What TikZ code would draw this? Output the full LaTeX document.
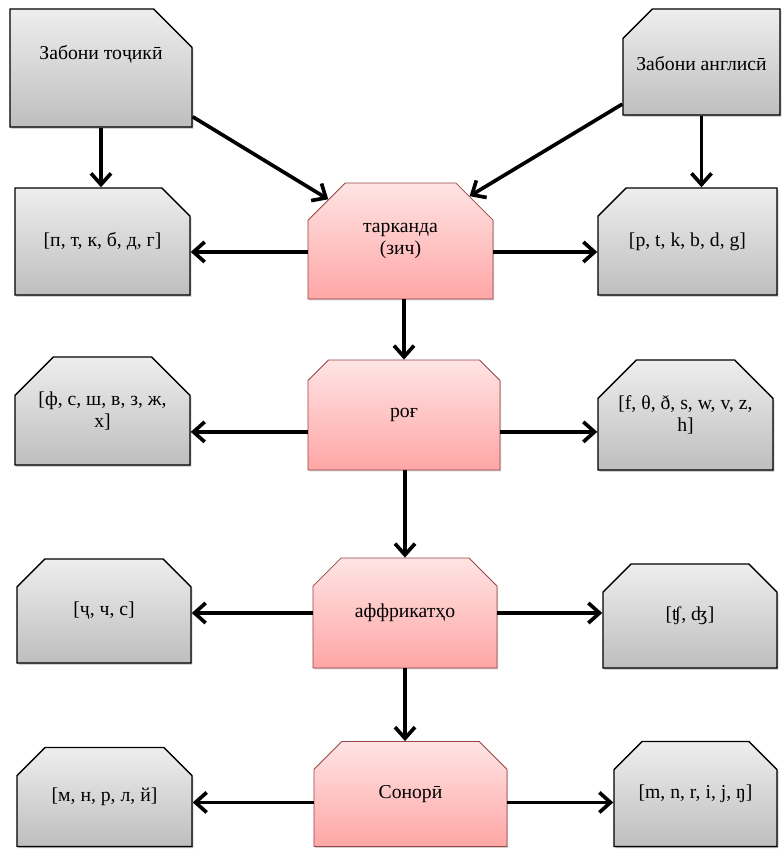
\documentclass[tikz,border=0pt]{standalone}
\usepackage{fontspec}
\setmainfont{Liberation Serif}
\usetikzlibrary{positioning, arrows.meta, shapes.misc, shadows}
\definecolor{greytop}{RGB}{238,238,238}
\definecolor{greybot}{RGB}{190,190,190}
\definecolor{pinktop}{RGB}{255,228,228}
\definecolor{pinkbot}{RGB}{255,166,166}
\definecolor{pinkline}{RGB}{150,70,70}

\begin{document}
\begin{tikzpicture}[
    x=0.025cm, y=-0.025cm,
    every node/.style={chamfered rectangle, chamfered rectangle sep=0.48cm, align=center, inner sep=0pt, font=\fontsize{14}{16}\selectfont},
    top2/.style={chamfered rectangle corners={north west, north east}},
    greybox/.style={draw=black, line width=1pt, top color=greytop, bottom color=greybot, drop shadow={shadow xshift=1pt, shadow yshift=-1.2pt, fill=black!55}},
    pinkbox/.style={draw=pinkline, line width=0.6pt, top color=pinktop, bottom color=pinkbot, drop shadow={shadow xshift=0.8pt, shadow yshift=-1pt, fill=black!35}},
    link/.style={line width=2.6pt, -{Straight Barb[length=2.8mm, width=5mm]}}
]
\useasboundingbox (0,0) rectangle (782,849);

% languages
\node[greybox, chamfered rectangle corners=north east, minimum width=4.55cm, minimum height=2.95cm] (tajik) at (101,68) {Забони тоҷикӣ\\[6pt]};
\node[greybox, chamfered rectangle corners=north west, chamfered rectangle xsep=0.8cm, chamfered rectangle ysep=0.52cm, minimum width=3.925cm, minimum height=2.65cm] (english) at (701.5,62) {\\[-4pt]Забони англисӣ};

% row 1
\node[pinkbox, top2, minimum width=4.625cm, minimum height=2.9cm] (stop) at (400.5,241) {тарканда\\(зич)};
\node[greybox, chamfered rectangle corners=north east, minimum width=4.375cm, minimum height=2.675cm] (stopTj) at (102.5,241.5) {[п, т, к, б, д, г]};
\node[greybox, chamfered rectangle corners=north west, minimum width=4.475cm, minimum height=2.675cm] (stopEn) at (687.5,241.5) {[p, t, k, b, d, g]};

% row 2
\node[pinkbox, top2, minimum width=4.8cm, minimum height=2.75cm] (fric) at (404,415) {роғ};
\node[greybox, top2, minimum width=4.375cm, minimum height=2.7cm] (fricTj) at (102.5,411) {[ф, с, ш, в, з, ж,\\х]};
\node[greybox, top2, minimum width=4.375cm, minimum height=2.75cm] (fricEn) at (685.5,415) {[f, θ, ð, s, w, v, z,\\h]};

% row 3
\node[pinkbox, top2, minimum width=4.6cm, minimum height=2.75cm] (affr) at (405,613) {аффрикатҳо};
\node[greybox, top2, minimum width=4.35cm, minimum height=2.6cm] (affrTj) at (104,611) {[ҷ, ч, с]};
\node[greybox, top2, minimum width=4.35cm, minimum height=2.6cm] (affrEn) at (690,616) {[ʧ, ʤ]};

% row 4
\node[pinkbox, top2, minimum width=4.825cm, minimum height=2.625cm] (son) at (410.5,794) {Сонорӣ};
\node[greybox, top2, minimum width=4.375cm, minimum height=2.475cm] (sonTj) at (104.5,797) {[м, н, р, л, й]};
\node[greybox, top2, minimum width=4.075cm, minimum height=2.625cm] (sonEn) at (695.5,794) {[m, n, r, i, j, ŋ]};

% arrows
\draw[link] (tajik.south) -- (tajik.south |- stopTj.north);
\draw[link] (english.south) -- (english.south |- stopEn.north);
\draw[link] (tajik.-28) -- (stop.150);
\draw[link] (english.208) -- (stop.33);
\draw[link] ([yshift=-7.8pt]stop.west) -- ([yshift=-7.8pt]stop.west -| stopTj.east);
\draw[link] ([yshift=-7.8pt]stop.east) -- ([yshift=-7.8pt]stop.east -| stopEn.west);
\draw[link] (fric.north |- stop.south) -- (fric.north);
\draw[link] ([yshift=-12pt]fric.west) -- ([yshift=-12pt]fric.west -| fricTj.east);
\draw[link] ([yshift=-12pt]fric.east) -- ([yshift=-12pt]fric.east -| fricEn.west);
\draw[link] (affr.north |- fric.south) -- (affr.north);
\draw[link] (affr.west) -- (affr.west -| affrTj.east);
\draw[link] (affr.east) -- (affr.east -| affrEn.west);
\draw[link] (affr.south) -- (affr.south |- son.north);
\draw[link] ([yshift=-6pt]son.west) -- ([yshift=-6pt]son.west -| sonTj.east);
\draw[link] ([yshift=-6pt]son.east) -- ([yshift=-6pt]son.east -| sonEn.west);

\end{tikzpicture}
\end{document}
